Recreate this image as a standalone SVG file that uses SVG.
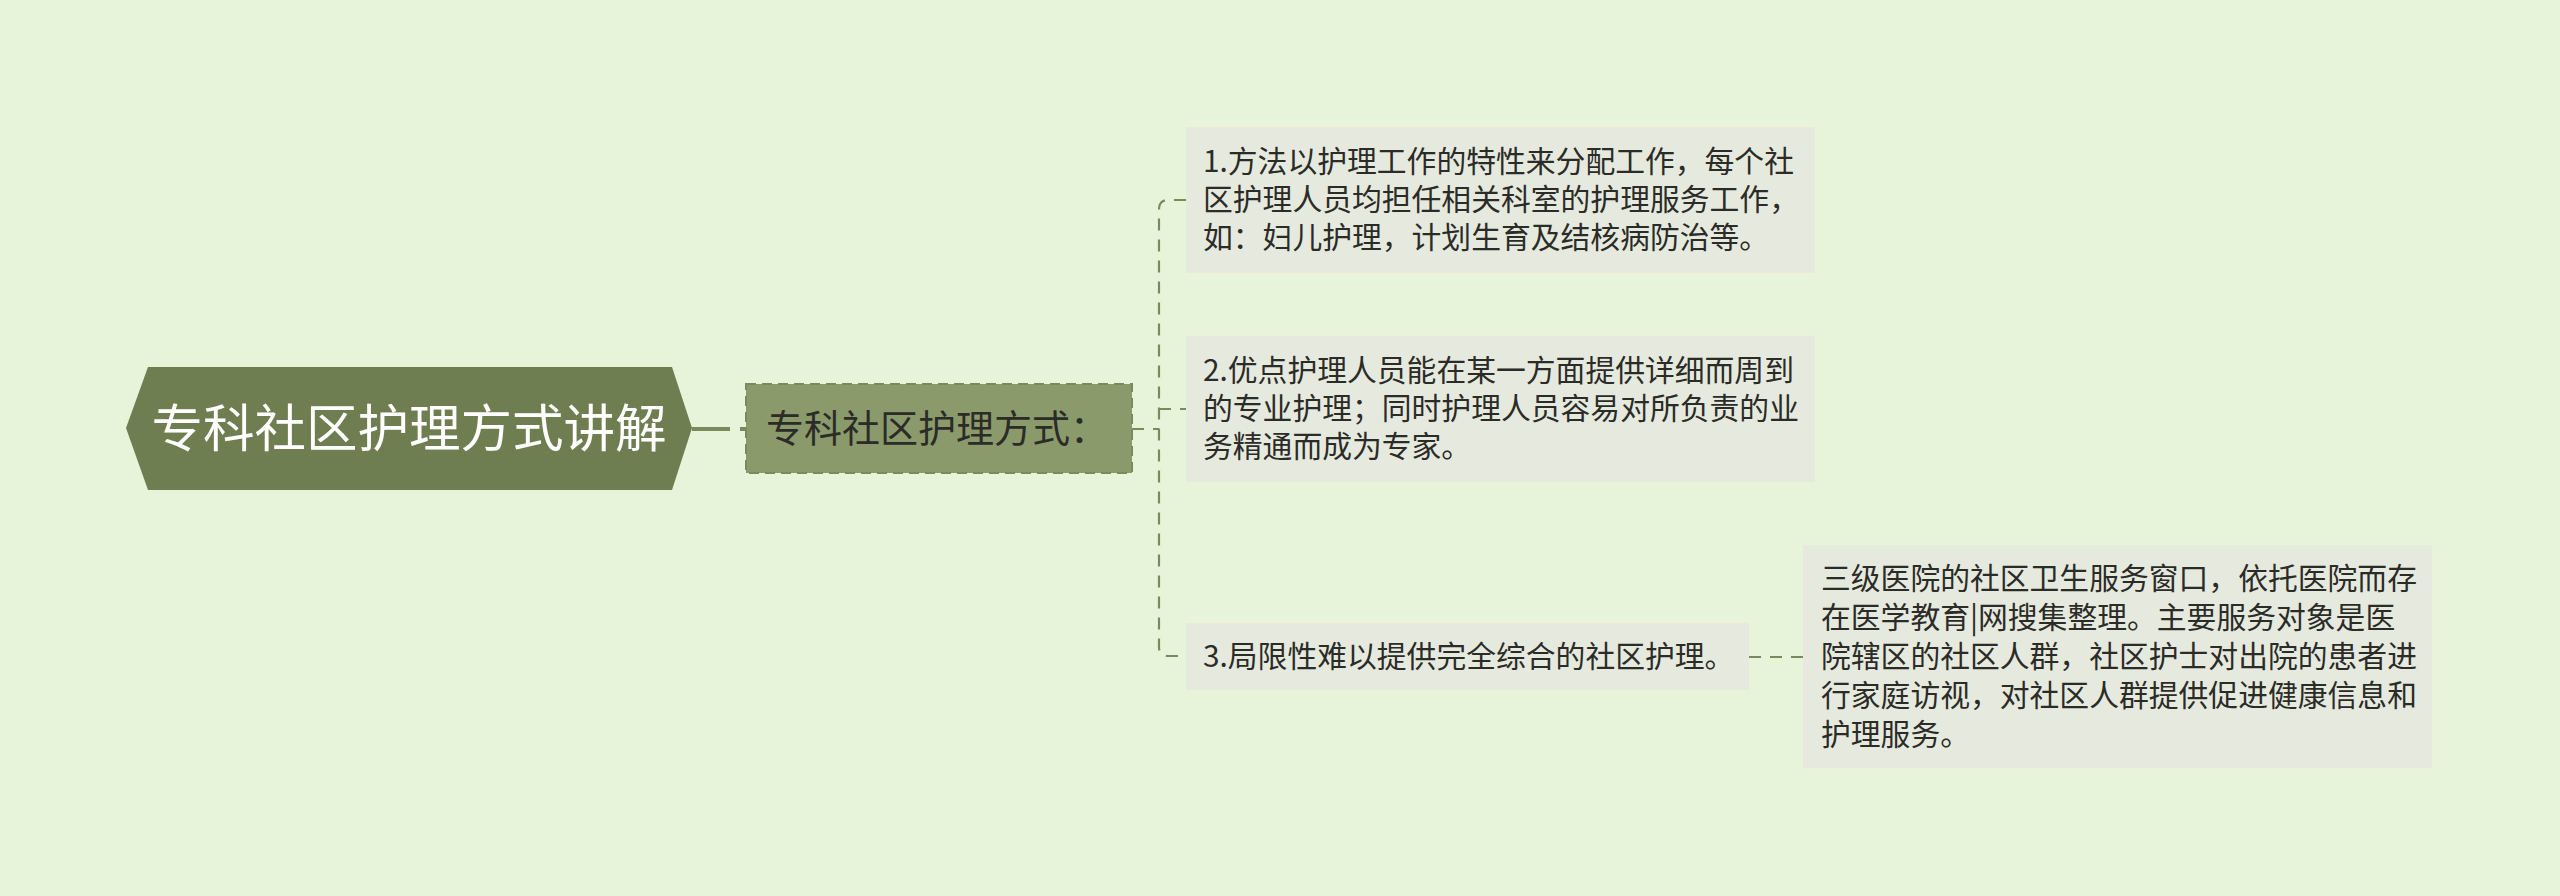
<svg xmlns="http://www.w3.org/2000/svg" width="2560" height="896" viewBox="0 0 2560 896">
<style>
.t{font-family:"Noto Sans CJK SC","Liberation Sans",sans-serif;fill:#2b2b28}
.leaf{fill:#e6eade}
.c{fill:none;stroke:#7b8a5c;stroke-width:2.2;stroke-dasharray:12 9}
</style>
<rect x="0" y="0" width="2560" height="896" fill="#e7f4da"/>
<g id="connectors">
<path d="M692,429 H746" fill="none" stroke="#7b8a5c" stroke-width="4" stroke-dasharray="38 10"/>
<path class="c" d="M1132,429 H1159"/>
<path class="c" d="M1186,200 H1168 Q1159,200 1159,209 V647 Q1159,656 1168,656 H1186"/>
<path class="c" d="M1159,409 H1186"/>
<path class="c" d="M1749,657 H1803"/>
</g>
<g id="root">
<polygon points="126,428 148,367 672,367 692,428 672,490 148,490" fill="#6e7e50"/>
<text class="t" x="409" y="447" font-size="51.5" text-anchor="middle" style="fill:#ffffff">专科社区护理方式讲解</text>
</g>
<g id="sub">
<rect x="746" y="384" width="386" height="89" fill="#8b9a6b" stroke="#7a8a5a" stroke-width="2" stroke-dasharray="10 6"/>
<text class="t" x="766" y="442" font-size="38">专科社区护理方式：</text>
</g>
<g id="n1">
<rect class="leaf" x="1186" y="127" width="629" height="146"/>
<text class="t" font-size="29.8"><tspan x="1203" y="172">1.方法以护理工作的特性来分配工作，每个社</tspan><tspan x="1203" y="210">区护理人员均担任相关科室的护理服务工作，</tspan><tspan x="1203" y="248">如：妇儿护理，计划生育及结核病防治等。</tspan></text>
</g>
<g id="n2">
<rect class="leaf" x="1186" y="336" width="629" height="146"/>
<text class="t" font-size="29.8"><tspan x="1203" y="381">2.优点护理人员能在某一方面提供详细而周到</tspan><tspan x="1203" y="419">的专业护理；同时护理人员容易对所负责的业</tspan><tspan x="1203" y="457">务精通而成为专家。</tspan></text>
</g>
<g id="n3">
<rect class="leaf" x="1186" y="623" width="563" height="67"/>
<text class="t" x="1203" y="667" font-size="29.8">3.局限性难以提供完全综合的社区护理。</text>
</g>
<g id="n4">
<rect class="leaf" x="1803" y="545" width="629" height="223"/>
<text class="t" font-size="29.8"><tspan x="1821" y="589">三级医院的社区卫生服务窗口，依托医院而存</tspan><tspan x="1821" y="628">在医学教育|网搜集整理。主要服务对象是医</tspan><tspan x="1821" y="667">院辖区的社区人群，社区护士对出院的患者进</tspan><tspan x="1821" y="706">行家庭访视，对社区人群提供促进健康信息和</tspan><tspan x="1821" y="745">护理服务。</tspan></text>
</g>
</svg>
